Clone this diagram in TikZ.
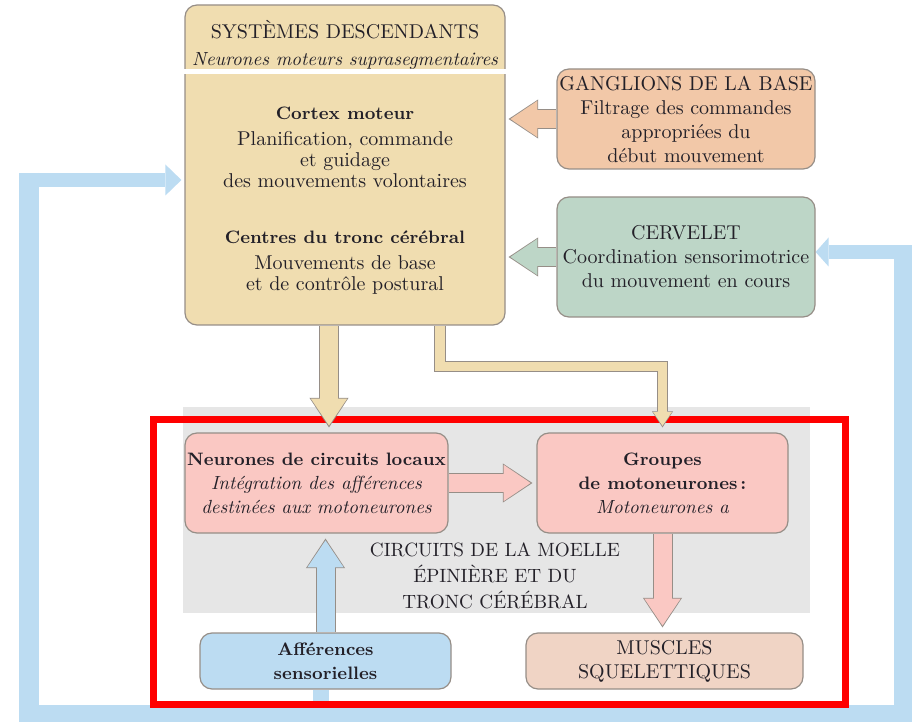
\documentclass[tikz,border=0pt]{standalone}
\usepackage{tikz}
\usetikzlibrary{positioning, arrows.meta}
\definecolor{encre}{RGB}{35,32,40}
\definecolor{bordure}{RGB}{150,142,135}
\definecolor{beige}{RGB}{240,221,176}
\definecolor{saumon}{RGB}{242,200,168}
\definecolor{vertgris}{RGB}{189,214,199}
\definecolor{rose}{RGB}{250,200,195}
\definecolor{chair}{RGB}{240,212,197}
\definecolor{bleu}{RGB}{188,220,242}
\definecolor{grisfond}{RGB}{230,230,230}
\newcommand{\gras}[1]{{\fontsize{9}{12}\selectfont\bfseries #1}} % bold lines, a bit smaller
\newcommand{\ital}[1]{{\fontsize{9.5}{12}\selectfont\itshape #1}} % italic lines
\pgfdeclarelayer{fond}
\pgfdeclarelayer{fleches}
\pgfsetlayers{fond,fleches,main}
\tikzset{
x=0.5pt, y=-0.5pt, % one unit = one pixel of the figure, y going down
boite/.style={draw=bordure, line width=0.6pt, rounded corners=6pt, inner sep=0pt, align=center, text=encre, font=\fontsize{10}{12}\selectfont}, % every coloured box
texte/.style={align=center, text=encre, font=\fontsize{10}{10.5}\selectfont}, % loose text
grosse/.style={draw=#1, line width=9pt, shorten >=0.9pt, -{Triangle[length=13.5pt,width=18.2pt,line width=0pt]},
  preaction={draw=bordure, line width=10pt, shorten >=0pt, -{Triangle[length=14.8pt,width=19.6pt,line width=0pt]}}}, % fat arrow with a thin rim
fine/.style={draw=#1, line width=4.8pt, shorten >=0.8pt, -{Triangle[length=6.8pt,width=9.3pt,line width=0pt]},
  preaction={draw=bordure, line width=5.6pt, shorten >=0pt, -{Triangle[length=8pt,width=10.5pt,line width=0pt]}}}, % thin arrow
boucle/.style={draw=bleu, line width=10pt}, % sensory feedback loop
}

\begin{document}
\begin{tikzpicture}
\useasboundingbox (0,0) rectangle (912,722);
% upper part
\node[boite, fill=beige, minimum width=160pt, minimum height=160pt] (desc) at (345,165) {};
\draw[white, line width=2.4pt] ([yshift=-33.75pt]desc.north west) -- ([yshift=-33.75pt]desc.north east);
\node[texte] (titre) at (345,45) {SYSTÈMES DESCENDANTS\\[3pt]\ital{Neurones moteurs suprasegmentaires}};
\node[texte] (cortex) at (345,147) {\gras{Cortex moteur}\\[2.5pt]Planification, commande\\et guidage\\des mouvements volontaires};
\node[texte] (tronc) at (345,263) {\gras{Centres du tronc cérébral}\\[2.5pt]Mouvements de base\\et de contrôle postural};
\node[boite, fill=saumon, minimum width=129pt, minimum height=50pt] (gang) at (686,119) {GANGLIONS DE LA BASE\\Filtrage des commandes\\appropriées du\\début mouvement};
\node[boite, fill=vertgris, minimum width=129pt, minimum height=60pt, below of=gang, node distance=69pt] (cerv) {CERVELET\\Coordination sensorimotrice\\du mouvement en cours};
% lower part
\node[boite, fill=rose, minimum width=131.5pt, minimum height=50pt] (neur) at (316.5,483) {\gras{Neurones de circuits locaux}\\\ital{Intégration des afférences}\\\ital{destinées aux motoneurones}};
\node[boite, fill=rose, minimum width=125.5pt, minimum height=50pt, right of=neur, node distance=173pt] (grp) {\gras{Groupes}\\\gras{de motoneurones\,:}\\\ital{Motoneurones a}};
\node[texte, font=\fontsize{9.6}{13}\selectfont] (circ) at (495,576) {CIRCUITS DE LA MOELLE\\ÉPINIÈRE ET DU\\TRONC CÉRÉBRAL};
\node[boite, fill=bleu, minimum width=125.5pt, minimum height=28pt, below of=neur, node distance=89pt, xshift=4.5pt] (aff) {\gras{Afférences}\\\gras{sensorielles}};
\node[boite, fill=chair, minimum width=138.5pt, minimum height=28pt, below of=grp, node distance=89pt, xshift=1pt] (musc) {MUSCLES\\SQUELETTIQUES};

\coordinate (coinG) at (29,715);
\coordinate (coinD) at (904,715);
\coordinate (hautG) at (29,173);
\coordinate (hautD) at (904,245);

\begin{pgfonlayer}{fleches}
\draw[grosse=beige] ([xshift=-8pt]desc.south) -- ([xshift=-8pt,yshift=2.5pt]desc.south |- neur.north);
\draw[fine=beige] ([xshift=47.5pt]desc.south) |- ([yshift=33pt]grp.north) -- ([yshift=2.5pt]grp.north);
\draw[grosse=saumon] (gang.west) -- ([xshift=1.5pt]gang.west -| desc.east);
\draw[grosse=vertgris] (cerv.west) -- ([xshift=1.5pt]cerv.west -| desc.east);
\draw[grosse=rose] (neur.east) -- ([xshift=-2pt]neur.east -| grp.west);
\draw[grosse=rose] (grp.south) -- ([yshift=2.5pt]grp.south |- musc.north);
\draw[grosse=bleu] (aff.north) -- ([yshift=-2.5pt]aff.north |- neur.south);
\end{pgfonlayer}

\begin{pgfonlayer}{fond}
\fill[grisfond] (183,407) rectangle (810,613);
\draw[boucle] (hautG) -- (coinG) -- (coinD) -- (hautD);
\draw[boucle, line width=7pt, -{Triangle[length=8pt,width=15.5pt,line width=0pt]}] ([xshift=-5pt,yshift=-3.5pt]hautG) -- ([xshift=-1.5pt,yshift=-3.5pt]hautG -| desc.west);
\draw[boucle, line width=7pt, -{Triangle[length=6.5pt,width=14.5pt,line width=0pt]}] ([xshift=5pt,yshift=-3.5pt]hautD) -- ([yshift=-3.5pt]hautD -| cerv.east);
\draw[boucle, line width=8pt] ([xshift=-2.5pt]aff.south) -- ([xshift=-2.5pt]aff.south |- coinG);
\draw[red, line width=3.5pt] (153,419) rectangle (845,704.5);
\end{pgfonlayer}
\end{tikzpicture}
\end{document}
